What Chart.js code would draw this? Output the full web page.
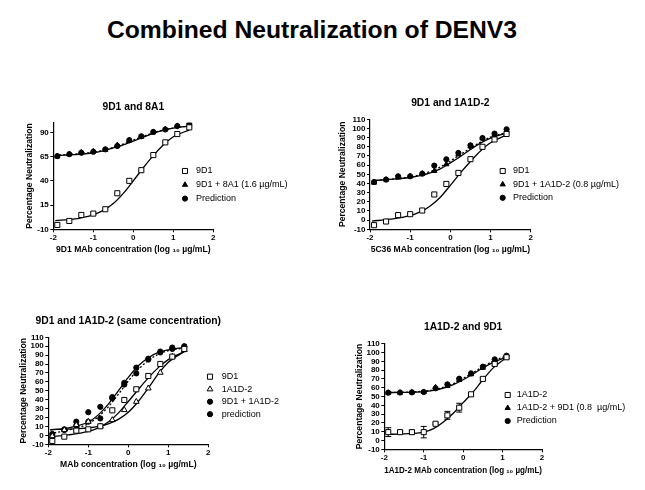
<!DOCTYPE html>
<html>
<head>
<meta charset="utf-8">
<script src="https://cdn.jsdelivr.net/npm/chart.js@4.4.1/dist/chart.umd.min.js"></script>
<style>
  html, body { margin: 0; padding: 0; background: #fff; }
  body { width: 645px; height: 490px; position: relative; overflow: hidden; font-family: "Liberation Sans", Arial, sans-serif; }
  #mainTitle { position: absolute; left: 0; width: 624px; top: 17px; text-align: center; font-weight: bold; font-size: 24.7px; line-height: 25px; color: #000; }
  .panelTitle { position: absolute; width: 300px; text-align: center; font-weight: bold; font-size: 10.3px; line-height: 12px; color: #000; white-space: nowrap; }
  canvas { position: absolute; }
</style>
</head>
<body>
<div id="mainTitle">Combined Neutralization of DENV3</div>
<canvas id="c1"></canvas>
<canvas id="c2"></canvas>
<canvas id="c3"></canvas>
<canvas id="c4"></canvas>
<script>
// ---- data (x in log10 µg/mL, y in % neutralization) ----
const doseX   = [-1.9, -1.6, -1.3, -1.0, -0.7, -0.4, -0.1, 0.2, 0.5, 0.8, 1.1, 1.4];
const doseX11 = [-1.9, -1.6, -1.3, -1.0, -0.7, -0.4, -0.1, 0.2, 0.5, 0.8, 1.1];
const fitX    = [-1.95, -1.5, -1, -0.75, -0.5, -0.25, 0, 0.25, 0.5, 0.75, 1, 1.4];
const fitX11  = [-1.95, -1.5, -1, -0.75, -0.5, -0.25, 0, 0.25, 0.5, 0.75, 1, 1.1];
const xTicks  = [-2, -1, 0, 1, 2];
const yTicks25 = [-10, 15, 40, 65, 90];
const yTicks10 = [-10, 0, 10, 20, 30, 40, 50, 60, 70, 80, 90, 100, 110];

// 9D1 and 8A1
const p1Data9D1  = [-5.5, -1.4, 4.8, 6.2, 10.7, 27.2, 40, 51, 66.6, 79.7, 88.3, 95.2];
const p1DataMix  = [65.2, 67.5, 69.5, 70.5, 72, 76.9, 81.7, 85.5, 90, 93.4, 96.9, 98.6];
const p1DataPred = [65.5, 67.5, 69, 70, 72.5, 76, 82, 86, 90.5, 93, 96.5, 98.8];
const p1Fit9D1   = [-1, 0.5, 5, 9.5, 16.5, 27, 40, 53.5, 66, 77, 85.5, 92.5];
const p1FitMix   = [66, 67, 69, 71, 74, 77, 81, 85, 89, 92, 94.5, 96.5];
const p1FitPred  = [66.5, 67.5, 69.5, 71.5, 74.5, 78, 82, 86, 89.5, 92.5, 94.5, 96.5];

// 9D1 and 1A1D-2
const p2Data9D1  = [-5.5, -1.5, 5.5, 6.5, 10.5, 28, 39.5, 51.5, 66.5, 80, 88, 94];
const p2DataMix  = [40.9, 44.2, 46.4, 47.8, 50.7, 53.6, 60.9, 71.5, 80.5, 89.3, 93.3, 97.6];
const p2DataPred = [41.6, 44.2, 47.8, 47.8, 50.7, 59.5, 66.4, 73.3, 81.6, 89.6, 94.4, 99.1];
const p2Fit9D1   = [-1, 1, 5, 9, 15.5, 25, 38, 51.5, 64, 75.5, 84.5, 93];
const p2FitMix   = [43, 44.5, 46.5, 48.5, 51.5, 56, 62.5, 69.5, 77, 84, 89.5, 95];
const p2FitPred  = [43, 44.5, 47, 49.5, 53, 58, 64.5, 71.5, 78.5, 85, 90.5, 95.5];

// 9D1 and 1A1D-2 (same concentration)
const p3Data9D1   = [-6.3, -1.4, 5.3, 6.8, 10.2, 28.1, 39.7, 51.7, 66.6, 80.1, 88.3, 96.9];
const p3Data1A1D2 = [-0.7, 6.1, 11.7, 15.4, 10.2, 17.3, 28.5, 37.8, 52.8, 70.4, 88.3, 95.8];
const p3DataMix   = [1.6, 6.8, 15.4, 26, 32, 43, 57, 76, 86, 94, 98.5, 100];
const p3DataPred  = [-1.4, 6, 11, 15.4, 19, 41.6, 59, 69.5, 85, 93, 97, 99];
const p3Fit9D1    = [-1.5, 0.5, 4.5, 8.5, 15, 25, 38, 51.5, 64.5, 76, 85, 94];
const p3Fit1A1D2  = [6.5, 7, 8.5, 10, 13, 18, 26, 38, 53, 69, 82, 94];
const p3FitMix    = [6, 8.5, 15, 23, 35, 50, 65, 78, 87, 93, 96, 98.5];
const p3FitPred   = [2, 6, 13, 21, 32, 46, 61, 74, 84, 91, 95, 98];

// 1A1D-2 and 9D1
const p4Data1A1D2 = [9.5, 9.5, 9.5, 9.5, 19, 28.6, 37.3, 52.5, 70, 87, 94.6];
const p4Err1A1D2  = [5, 1, 2, 6.5, 1, 4.5, 5, 1.5, 1.5, 1.5, 1];
const p4DataMix   = [54.3, 54.3, 54.7, 55.1, 60.4, 61.9, 68.7, 75.2, 82.7, 90.7, 94.8];
const p4DataPred  = [54.3, 54.5, 54.7, 55.1, 59.3, 63.8, 70.2, 76.3, 83.9, 92.2, 96.4];
const p4Fit1A1D2  = [7, 7.5, 9.5, 13.5, 21, 31, 43, 55, 69, 82, 91, 93.5];
const p4FitMix    = [54.5, 54.7, 55.5, 57, 59.5, 63.5, 69, 75.5, 82.5, 88.5, 93, 94.5];
const p4FitPred   = [54.5, 54.8, 56, 57.5, 60.5, 64.5, 70.5, 77, 84, 90, 94.5, 96];

// ---- helpers ----
const FONT = '"Liberation Sans", Arial, sans-serif';
Chart.defaults.font.family = FONT;
Chart.defaults.color = '#000';

const pts = (xs, ys) => xs.map((x, i) => ({ x: x, y: ys[i] }));

const MARK = {
  openSquare:   { pointStyle: 'rect', pointRadius: 3.6, backgroundColor: '#fff' },
  openTriangle: { pointStyle: 'triangle', pointRadius: 3.3, backgroundColor: '#fff' },
  triangle:     { pointStyle: 'triangle', pointRadius: 3, backgroundColor: '#000' },
  circle:       { pointStyle: 'circle', pointRadius: 2.6, backgroundColor: '#000' }
};

function markers(label, xs, ys, kind, errors) {
  const m = MARK[kind];
  return {
    label: label,
    data: pts(xs, ys),
    pointStyle: m.pointStyle,
    pointRadius: m.pointRadius,
    pointBackgroundColor: m.backgroundColor,
    pointBorderColor: '#000',
    pointBorderWidth: 1,
    showLine: false,
    errors: errors
  };
}

function fitLine(xs, ys, dotted) {
  return {
    isFit: true,
    data: pts(xs, ys),
    showLine: true,
    pointRadius: 0,
    borderColor: '#000',
    borderWidth: 1.3,
    borderDash: dotted ? [2, 2] : [],
    cubicInterpolationMode: 'monotone',
    fill: false
  };
}

// legend drawn inside the plot, to the right of the curves
const insideLegend = {
  id: 'insideLegend',
  afterDraw(chart, args, opts) {
    const ctx = chart.ctx;
    ctx.save();
    ctx.font = '9px ' + FONT;
    ctx.textBaseline = 'middle';
    chart.data.datasets.filter(d => !d.isFit).forEach((d, i) => {
      const y = opts.y + i * opts.dy;
      ctx.fillStyle = d.pointBackgroundColor;
      ctx.strokeStyle = '#000';
      ctx.lineWidth = 1;
      Chart.helpers.drawPoint(ctx, { pointStyle: d.pointStyle, radius: d.pointRadius, borderWidth: 1, rotation: 0 }, opts.x, y);
      ctx.fillStyle = '#000';
      ctx.fillText(d.label, opts.textX, y);
    });
    ctx.restore();
  }
};

// vertical SEM bars with caps
const errorBars = {
  id: 'errorBars',
  beforeDatasetsDraw(chart) {
    const ctx = chart.ctx;
    const xs = chart.scales.x, ys = chart.scales.y;
    ctx.save();
    ctx.strokeStyle = '#000';
    ctx.lineWidth = 1;
    chart.data.datasets.forEach(d => {
      if (!d.errors) return;
      d.data.forEach((p, i) => {
        const e = d.errors[i];
        const px = xs.getPixelForValue(p.x);
        const top = ys.getPixelForValue(p.y + e);
        const bot = ys.getPixelForValue(p.y - e);
        ctx.beginPath();
        ctx.moveTo(px, top); ctx.lineTo(px, bot);
        ctx.moveTo(px - 3, top); ctx.lineTo(px + 3, top);
        ctx.moveTo(px - 3, bot); ctx.lineTo(px + 3, bot);
        ctx.stroke();
      });
    });
    ctx.restore();
  }
};

// layout of each panel in page pixels: canvas box, plot area, text anchors
function makePanel(p) {
  const [bx, by, bw, bh] = p.box;
  const [L, T, R, B] = p.area;
  const canvas = document.getElementById(p.id);
  canvas.width = bw; canvas.height = bh;
  canvas.style.left = bx + 'px'; canvas.style.top = by + 'px';
  canvas.style.width = bw + 'px'; canvas.style.height = bh + 'px';

  // panel title, centred over the plot area
  const t = document.createElement('div');
  t.className = 'panelTitle';
  t.textContent = p.title;
  t.style.left = ((L + R) / 2 - 150) + 'px';
  t.style.top = (p.titleY - 6) + 'px';
  document.body.appendChild(t);

  const yW = L - bx;
  const xH = by + bh - B;
  const axisSize = 8.6;
  const axisLH = axisSize * 1.2;

  const tickFont = { size: 8, weight: 'bold' };
  const axisTitleFont = { size: axisSize, weight: 'bold', lineHeight: 1.2 };

  new Chart(canvas, {
    type: 'scatter',
    data: { datasets: p.datasets },
    options: {
      responsive: false,
      animation: false,
      events: [],
      layout: { padding: { left: 0, top: T - by, bottom: 0, right: bx + bw - R } },
      plugins: {
        legend: { display: false },
        tooltip: { enabled: false },
        title: { display: false },
        insideLegend: { x: p.legend.x - bx, textX: p.legend.textX - bx, y: p.legend.y - by, dy: p.legend.dy }
      },
      scales: {
        x: {
          type: 'linear',
          min: -2, max: 2,
          afterBuildTicks: s => { s.ticks = xTicks.map(v => ({ value: v })); },
          afterFit: s => { s.height = xH; s.paddingLeft = 0; s.paddingRight = 0; },
          ticks: { font: tickFont, color: '#000', padding: 1, maxRotation: 0, autoSkip: false },
          grid: { drawOnChartArea: false, drawTicks: true, tickLength: 3, color: '#000', lineWidth: 1 },
          border: { display: true, color: '#000', width: 1.2 },
          title: {
            display: true, text: p.xTitle, font: axisTitleFont, color: '#000',
            padding: { top: 0, bottom: by + bh - p.xTitleY - axisLH / 2 }
          }
        },
        y: {
          type: 'linear',
          min: -10, max: p.yMax,
          afterBuildTicks: s => { s.ticks = p.yTicks.map(v => ({ value: v })); },
          afterFit: s => { s.width = yW; s.paddingTop = 0; s.paddingBottom = 0; },
          ticks: { font: tickFont, color: '#000', padding: 1.5, autoSkip: false },
          grid: { drawOnChartArea: false, drawTicks: true, tickLength: 3, color: '#000', lineWidth: 1 },
          border: { display: true, color: '#000', width: 1.2 },
          title: {
            display: true, text: 'Percentage Neutralization', font: axisTitleFont, color: '#000',
            padding: { top: p.yTitleX - bx - axisLH / 2, bottom: 0 }
          }
        }
      }
    },
    plugins: [insideLegend, errorBars]
  });
}

const panels = [
  {
    id: 'c1', box: [0, 95, 320, 165], area: [53.3, 122.7, 213.3, 229.3],
    titleY: 106.7, yTitleX: 30, xTitleY: 250, yMax: 100, yTicks: yTicks25,
    title: '9D1 and 8A1',
    xTitle: '9D1 MAb concentration (log \u2081\u2080 \u00b5g/mL)',
    legend: { x: 185, textX: 196, y: 171, dy: 13.8 },
    datasets: [
      markers('9D1', doseX, p1Data9D1, 'openSquare'),
      markers('9D1 + 8A1 (1.6 \u00b5g/mL)', doseX, p1DataMix, 'triangle'),
      markers('Prediction', doseX, p1DataPred, 'circle'),
      fitLine(fitX, p1Fit9D1, false),
      fitLine(fitX, p1FitMix, false),
      fitLine(fitX, p1FitPred, true)
    ]
  },
  {
    id: 'c2', box: [320, 92, 325, 168], area: [370, 119.3, 530.7, 229.3],
    titleY: 103.3, yTitleX: 342.7, xTitleY: 250, yMax: 110, yTicks: yTicks10,
    title: '9D1 and 1A1D-2',
    xTitle: '5C36 MAb concentration (log \u2081\u2080 \u00b5g/mL)',
    legend: { x: 502.7, textX: 513, y: 171, dy: 13.4 },
    datasets: [
      markers('9D1', doseX, p2Data9D1, 'openSquare'),
      markers('9D1 + 1A1D-2 (0.8 \u00b5g/mL)', doseX, p2DataMix, 'triangle'),
      markers('Prediction', doseX, p2DataPred, 'circle'),
      fitLine(fitX, p2Fit9D1, false),
      fitLine(fitX, p2FitMix, false),
      fitLine(fitX, p2FitPred, true)
    ]
  },
  {
    id: 'c3', box: [0, 308, 320, 172], area: [48.3, 337.3, 208.3, 444.3],
    titleY: 320.7, yTitleX: 24, xTitleY: 464.3, yMax: 110, yTicks: yTicks10,
    title: '9D1 and 1A1D-2 (same concentration)',
    xTitle: 'MAb concentration (log \u2081\u2080 \u00b5g/mL)',
    legend: { x: 210, textX: 221.7, y: 376.7, dy: 12.5 },
    datasets: [
      markers('9D1', doseX, p3Data9D1, 'openSquare'),
      markers('1A1D-2', doseX, p3Data1A1D2, 'openTriangle'),
      markers('9D1 + 1A1D-2', doseX, p3DataMix, 'circle'),
      markers('prediction', doseX, p3DataPred, 'circle'),
      fitLine(fitX, p3Fit9D1, false),
      fitLine(fitX, p3Fit1A1D2, false),
      fitLine(fitX, p3FitMix, false),
      fitLine(fitX, p3FitPred, true)
    ]
  },
  {
    id: 'c4', box: [320, 315, 325, 172], area: [384.3, 343.7, 542, 449.3],
    titleY: 327.3, yTitleX: 359.3, xTitleY: 470.7, yMax: 110, yTicks: yTicks10,
    title: '1A1D-2 and 9D1',
    xTitle: '1A1D-2 MAb concentration (log \u2081\u2080 \u00b5g/mL)',
    legend: { x: 507.7, textX: 516.7, y: 395, dy: 13 },
    datasets: [
      markers('1A1D-2', doseX11, p4Data1A1D2, 'openSquare', p4Err1A1D2),
      markers('1A1D-2 + 9D1 (0.8  \u00b5g/mL)', doseX11, p4DataMix, 'triangle'),
      markers('Prediction', doseX11, p4DataPred, 'circle'),
      fitLine(fitX11, p4Fit1A1D2, false),
      fitLine(fitX11, p4FitMix, false),
      fitLine(fitX11, p4FitPred, true)
    ]
  }
];

panels.forEach(makePanel);
</script>
</body>
</html>
